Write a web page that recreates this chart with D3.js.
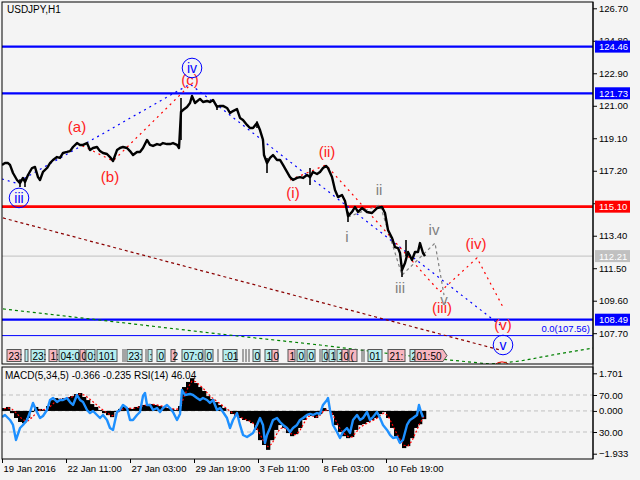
<!DOCTYPE html>
<html>
<head>
<meta charset="utf-8">
<script src="https://cdn.jsdelivr.net/npm/d3@7"></script>
<style>
  body { margin: 0; background: #f4f4f4; }
  text { font-family: "Liberation Sans", Arial, sans-serif; }
</style>
</head>
<body>
<div id="chart"></div>
<script>
// ---- data ----
const titleText = "USDJPY,H1";
const subTitleText = "MACD(5,34,5) -0.366 -0.235 RSI(14) 46.04";

const timeTickBars = [0, 64, 128, 192, 256, 320, 384];
const timeTickLabels = ["19 Jan 2016", "22 Jan 11:00", "27 Jan 03:00", "29 Jan 19:00", "3 Feb 11:00", "8 Feb 03:00", "10 Feb 19:00"];

const priceTicks = [126.70, 124.80, 122.90, 121.00, 119.10, 117.20, 115.30, 113.40, 111.50, 109.60, 107.70];

const priceBars = [0,3,6,8,11,15,18,21,23,26,30,33,36,38,41,45,48,51,55,58,61,65,68,71,75,78,81,85,88,91,95,98,101,105,108,111,115,118,121,125,128,131,135,138,141,145,148,151,155,158,161,165,168,171,175,177,178,179,181,185,188,190,193,198,201,205,208,211,215,218,221,225,228,231,235,238,241,245,248,251,255,258,261,262,265,268,271,275,278,281,285,288,291,295,298,301,305,308,311,315,318,321,324,326,330,333,336,340,343,346,350,353,356,360,365,370,375,380,383,386,390,393,396,398,400,403,406,410,413,416,418,421,423];
const priceClose = [117.54,117.65,117.65,117.54,117.07,116.66,116.48,116.78,116.54,116.95,117.36,117.42,116.83,116.66,117.13,117.36,117.65,117.83,118.00,117.95,118.24,118.30,118.35,118.59,118.82,118.71,118.71,118.82,118.41,118.53,118.59,118.35,118.24,118.18,118.00,117.77,118.41,118.53,118.59,118.53,118.35,118.12,118.30,118.30,118.53,119.00,118.71,118.65,118.76,118.71,118.82,118.76,118.76,118.82,118.71,118.53,119.58,120.64,120.75,120.93,121.16,121.57,121.16,121.40,121.22,121.28,121.22,121.34,120.93,120.99,120.99,120.87,120.58,120.69,120.81,120.29,120.17,119.88,119.70,119.70,119.99,119.58,119.00,118.12,117.65,117.95,118.12,117.83,117.83,117.54,117.13,116.83,116.66,116.78,116.83,116.78,116.95,116.83,117.13,117.01,117.13,117.36,117.48,117.36,116.83,116.07,115.66,115.78,115.43,114.55,114.79,115.08,114.79,115.02,114.79,114.73,115.02,115.08,114.73,113.74,113.27,112.74,112.68,112.39,111.40,111.81,112.45,111.98,112.45,112.45,112.97,112.39,112.21];

const wickBars = [18, 23, 179, 215, 255, 265, 308, 346, 400, 404];
const wickHigh = [116.70, 116.70, 121.45, 121.00, 120.10, 117.95, 117.36, 114.80, 111.60, 113.15];
const wickLow  = [116.25, 116.25, 119.00, 120.75, 119.70, 117.07, 116.37, 114.20, 110.99, 112.20];

const blueLevels = [124.46, 121.73, 108.49];
const redLevels = [115.10];
const currentPrice = 112.21;
const fiboLevel = 107.56;
const fiboText = "0.0(107.56)";

// wave paths
const blueWaveBars = [0, 14, 188, 498];
const blueWavePrices = [116.72, 116.48, 122.27, 108.18];
const abcBars = [75, 111, 188];
const abcPrices = [118.82, 117.77, 122.21];
const minorBars = [288, 324, 438, 475, 501];
const minorPrices = [116.66, 117.54, 110.11, 112.10, 109.23];
const subBars = [346, 378, 400, 433, 442];
const subPrices = [114.50, 115.20, 111.10, 112.97, 109.93];
const channelBars = [1, 498];
const channelPrices = [114.44, 106.72];
const greenBars = [1, 71, 218, 318, 398, 448, 488, 518, 551, 591];
const greenPrices = [109.12, 108.65, 107.65, 107.01, 106.43, 106.13, 105.90, 106.07, 106.43, 106.83];

// wave labels
const redLabelText = ["(a)", "(b)", "(c)", "(i)", "(ii)", "(iii)", "(iv)", "(v)"];
const redLabelBars = [75, 108, 188, 291, 325, 440, 474, 501];
const redLabelPrices = [119.76, 116.89, 122.51, 115.90, 118.30, 109.23, 112.97, 108.18];
const grayLabelText = ["i", "ii", "iii", "iv", "v"];
const grayLabelBars = [345, 377, 398, 432, 442];
const grayLabelPrices = [113.33, 116.13, 110.40, 113.79, 109.70];
const blueCircleText = ["iii", "iv", "v"];
const blueCircleBars = [17, 190, 501];
const blueCirclePrices = [115.61, 123.21, 107.01];
const redCircleText = ["C"];
const redCircleBars = [500];
const redCirclePrices = [105.45];

// session markers along the bottom of the price panel
const sessionStart = [5,23,29,47,57,78,84,95,125,146,155,169,180,203,221,251,263,270,286,295,305,320,327,335,340,347,366,386,408,413];
const sessionEnd   = [19,26,43,55,77,83,93,115,140,150,163,173,201,211,235,258,270,276,293,303,313,325,333,340,346,355,380,403,413,441];
const sessionText  = ["23:","","23:","1:","04:0","0","0:","101","23:",":","0","2","07:0","0",":01","0","1","0","1","0","0","0","1","1","0","(","01","21:","2","01:50"];
const sessionKind  = ["p","c","c","p","c","p","c","c","c","c","c","p","c","c","c","c","c","p","p","c","c","c","c","c","p","p","c","p","c","p"];
const sessionTicks = [121, 123, 144, 216, 241, 244, 247, 318, 360, 362];

// MACD / RSI sub-window
const macdStep = 4;
const macdValues = [0.13,0.18,-0.10,-0.32,-0.50,-0.55,-0.32,-0.05,0.18,0.09,0.04,0.22,0.49,0.58,0.54,0.58,0.63,0.67,0.76,0.81,0.63,0.49,0.31,0.18,0.04,-0.10,-0.19,-0.28,-0.05,0.09,0.18,0.13,0.09,0.18,0.22,0.27,0.31,0.31,0.27,0.22,0.18,0.13,0.09,0.04,0.22,1.08,1.31,1.48,1.26,1.08,0.90,0.67,0.54,0.40,0.27,0.13,0.00,-0.14,-0.23,-0.32,-0.41,-0.46,-0.55,-0.86,-1.32,-1.54,-1.76,-1.32,-0.86,-0.64,-0.77,-1.00,-1.14,-1.05,-0.77,-0.41,-0.14,-0.23,-0.32,-0.14,0.13,0.04,-0.19,-0.64,-0.95,-1.14,-1.23,-1.18,-0.86,-0.64,-0.59,-0.50,-0.41,-0.32,-0.14,-0.05,-0.32,-0.77,-1.14,-1.41,-1.68,-1.59,-1.23,-0.77,-0.60,-0.37];
const signalValues = [0.10,0.14,0.08,-0.08,-0.28,-0.42,-0.45,-0.30,-0.10,0.05,0.06,0.10,0.28,0.45,0.53,0.55,0.59,0.63,0.70,0.76,0.72,0.60,0.45,0.30,0.15,0.00,-0.12,-0.22,-0.14,0.00,0.12,0.14,0.11,0.14,0.19,0.24,0.28,0.30,0.28,0.24,0.20,0.15,0.11,0.07,0.12,0.65,1.05,1.35,1.32,1.15,0.98,0.78,0.60,0.46,0.33,0.20,0.06,-0.08,-0.18,-0.27,-0.36,-0.43,-0.50,-0.70,-1.05,-1.40,-1.62,-1.48,-1.10,-0.80,-0.75,-0.90,-1.06,-1.07,-0.88,-0.55,-0.25,-0.22,-0.28,-0.20,0.02,0.06,-0.10,-0.45,-0.80,-1.02,-1.16,-1.18,-0.98,-0.74,-0.63,-0.54,-0.45,-0.36,-0.20,-0.09,-0.22,-0.58,-0.95,-1.28,-1.55,-1.58,-1.35,-0.95,-0.55,-0.24];
const rsiBars = [0,3,8,11,14,18,21,25,28,31,34,38,41,45,48,51,55,58,61,65,68,71,75,78,81,85,88,91,95,98,101,105,108,111,115,118,121,125,128,131,135,138,141,143,145,148,151,155,158,161,165,168,171,175,178,180,183,188,191,195,198,201,205,208,211,215,218,221,225,228,231,235,238,241,245,248,251,255,258,261,263,265,268,271,275,278,281,285,288,291,295,298,301,305,308,311,315,318,321,325,326,328,331,335,338,341,345,348,351,355,358,361,365,368,371,375,378,381,385,388,391,395,398,401,405,408,411,415,417,419,421];
const rsiValues = [46.2,48.4,43.0,37.6,21.4,34.3,37.6,43.0,51.6,61.4,53.8,45.1,47.3,53.8,64.6,66.8,62.4,64.6,64.6,66.8,62.4,59.2,70.0,64.6,62.4,53.8,50.5,52.7,48.4,45.1,48.4,43.0,34.3,32.2,51.6,53.8,59.2,55.9,43.0,43.0,48.4,51.6,68.9,72.2,59.2,59.2,53.8,55.9,51.6,55.9,59.2,55.9,51.6,43.0,49.5,75.4,70.0,71.1,70.0,66.8,64.6,66.8,64.6,61.4,64.6,53.8,55.9,51.6,45.1,34.3,43.0,50.5,37.6,26.8,24.6,26.8,29.0,37.6,45.1,37.6,18.1,26.8,34.3,43.0,45.1,40.8,37.6,34.3,30.0,34.3,37.6,43.0,45.1,48.4,49.5,48.4,50.5,49.5,59.2,64.6,66.8,53.8,37.6,30.0,23.5,30.0,34.3,29.0,43.0,48.4,43.0,45.1,51.6,43.0,46.2,51.6,45.1,37.6,32.2,26.8,23.5,24.6,18.1,21.4,37.6,43.0,45.1,48.4,59.2,51.6,46.0];
const rsiLevels = [70, 30];
const macdTicks = [1.701, 0, -1.933];

// ---- layout ----
const width = 640, height = 480;
const plotL = 2, plotR = 593;
const mainTop = 2, mainBottom = 364;
const subTop = 367, subBottom = 459;
const axisFont = "9.5px";

const svg = d3.select("#chart").append("svg")
  .attr("width", width)
  .attr("height", height)
  .style("background", "#f4f4f4");

const x = d3.scaleLinear().domain([0, 591]).range([plotL, plotR]);
const y = d3.scaleLinear().domain([107.70, 126.70]).range([333.2, 8.3]);
const yMacd = d3.scaleLinear().domain([-1.933, 1.701]).range([453.7, 373.3]);
const yRsi = d3.scaleLinear().domain([0, 100]).range([459.75, 367.25]);

svg.append("clipPath").attr("id", "mainClip")
  .append("rect").attr("x", plotL).attr("y", mainTop)
  .attr("width", plotR - plotL).attr("height", mainBottom - mainTop);
svg.append("clipPath").attr("id", "subClip")
  .append("rect").attr("x", plotL).attr("y", subTop)
  .attr("width", plotR - plotL).attr("height", subBottom - subTop);

const main = svg.append("g").attr("clip-path", "url(#mainClip)");

// horizontal levels
main.selectAll(".blue-level").data(blueLevels).enter().append("line")
  .attr("x1", plotL).attr("x2", plotR)
  .attr("y1", d => y(d)).attr("y2", d => y(d))
  .attr("stroke", "#0000ff").attr("stroke-width", 2.2);
main.selectAll(".red-level").data(redLevels).enter().append("line")
  .attr("x1", plotL).attr("x2", plotR)
  .attr("y1", d => y(d)).attr("y2", d => y(d))
  .attr("stroke", "#ff0000").attr("stroke-width", 2.6);
main.append("line")
  .attr("x1", plotL).attr("x2", plotR)
  .attr("y1", y(currentPrice)).attr("y2", y(currentPrice))
  .attr("stroke", "#c0c0c0").attr("stroke-width", 1);
main.append("line")
  .attr("x1", plotL).attr("x2", plotR)
  .attr("y1", y(fiboLevel)).attr("y2", y(fiboLevel))
  .attr("stroke", "#0000ff").attr("stroke-width", 1);
main.append("text")
  .attr("x", plotR - 3).attr("y", y(fiboLevel) - 4)
  .attr("text-anchor", "end")
  .attr("font-size", axisFont)
  .attr("fill", "#0000ff")
  .text(fiboText);

function wavePath(bars, prices) {
  return d3.line().x((d, i) => x(bars[i])).y((d, i) => y(prices[i]))(bars);
}

const dotted = [
  { bars: greenBars, prices: greenPrices, color: "#008000", dash: "3,3", w: 1.2 },
  { bars: channelBars, prices: channelPrices, color: "#8b0000", dash: "3,3", w: 1.2 },
  { bars: blueWaveBars, prices: blueWavePrices, color: "#0000ff", dash: "2,4", w: 1.2 },
  { bars: abcBars, prices: abcPrices, color: "#ff0000", dash: "2,4", w: 1.2 },
  { bars: minorBars, prices: minorPrices, color: "#ff0000", dash: "2,4", w: 1.2 },
  { bars: subBars, prices: subPrices, color: "#808080", dash: "3,3", w: 1.2 }
];
dotted.forEach(s => {
  main.append("path")
    .attr("d", wavePath(s.bars, s.prices))
    .attr("fill", "none")
    .attr("stroke", s.color)
    .attr("stroke-width", s.w)
    .attr("stroke-dasharray", s.dash);
});

// session marker boxes
const sessions = main.append("g");
sessionStart.forEach((s, i) => {
  const x0 = x(s), x1 = x(sessionEnd[i]);
  const fill = sessionKind[i] === "p" ? "#f7b6bf" : "#b4eef0";
  if (i === sessionStart.length - 1) {
    sessions.append("path")
      .attr("d", `M${x0},349.5H${x1}L${x1 + 4},355.5L${x1},361.5H${x0}Z`)
      .attr("fill", fill).attr("stroke", "#555").attr("stroke-width", 1);
  } else {
    sessions.append("rect")
      .attr("x", x0).attr("y", 349.5).attr("width", x1 - x0).attr("height", 12)
      .attr("fill", fill).attr("stroke", "#555").attr("stroke-width", 1);
  }
  sessions.append("text")
    .attr("x", x0 + 1.5).attr("y", 359.5)
    .attr("font-size", "10px").attr("fill", "#000")
    .text(sessionText[i]);
});
sessions.selectAll(".tick").data(sessionTicks).enter().append("line")
  .attr("x1", d => x(d)).attr("x2", d => x(d))
  .attr("y1", 349).attr("y2", 362)
  .attr("stroke", "#555").attr("stroke-width", 1);

// price line + wicks
main.selectAll(".wick").data(wickBars).enter().append("line")
  .attr("x1", d => x(d)).attr("x2", d => x(d))
  .attr("y1", (d, i) => y(wickHigh[i])).attr("y2", (d, i) => y(wickLow[i]))
  .attr("stroke", "#000").attr("stroke-width", 1.6);
main.append("path")
  .attr("d", wavePath(priceBars, priceClose))
  .attr("fill", "none")
  .attr("stroke", "#000")
  .attr("stroke-width", 2.4)
  .attr("stroke-linejoin", "round");

// wave labels
main.selectAll(".red-label").data(redLabelText).enter().append("text")
  .attr("x", (d, i) => x(redLabelBars[i]))
  .attr("y", (d, i) => y(redLabelPrices[i]))
  .attr("text-anchor", "middle").attr("dominant-baseline", "central")
  .attr("font-size", "15px").attr("fill", "#ff2020")
  .text(d => d);
main.selectAll(".gray-label").data(grayLabelText).enter().append("text")
  .attr("x", (d, i) => x(grayLabelBars[i]))
  .attr("y", (d, i) => y(grayLabelPrices[i]))
  .attr("text-anchor", "middle").attr("dominant-baseline", "central")
  .attr("font-size", "15px").attr("fill", "#808080")
  .text(d => d);

function circleLabels(texts, bars, prices, color) {
  const g = main.selectAll(null).data(texts).enter().append("g")
    .attr("transform", (d, i) => `translate(${x(bars[i])},${y(prices[i])})`);
  g.append("circle").attr("r", 9.8)
    .attr("fill", "none").attr("stroke", color).attr("stroke-width", 1);
  g.append("text")
    .attr("text-anchor", "middle").attr("dominant-baseline", "central")
    .attr("font-size", "14px").attr("fill", color)
    .text(d => d);
}
circleLabels(blueCircleText, blueCircleBars, blueCirclePrices, "#0000ff");
circleLabels(redCircleText, redCircleBars, redCirclePrices, "#ff0000");

// title
svg.append("text")
  .attr("x", 7).attr("y", 13)
  .attr("font-size", "10px").attr("fill", "#000")
  .text(titleText);

// ---- sub window: MACD + RSI ----
const sub = svg.append("g").attr("clip-path", "url(#subClip)");
sub.selectAll(".rsi-level").data(rsiLevels).enter().append("line")
  .attr("x1", plotL).attr("x2", plotR)
  .attr("y1", d => yRsi(d)).attr("y2", d => yRsi(d))
  .attr("stroke", "#c0c0c0").attr("stroke-dasharray", "4,3");
sub.append("line")
  .attr("x1", plotL).attr("x2", plotR)
  .attr("y1", yMacd(0)).attr("y2", yMacd(0))
  .attr("stroke", "#c0c0c0").attr("stroke-dasharray", "4,3");

sub.selectAll(".hist").data(macdValues).enter().append("rect")
  .attr("x", (d, i) => x(i * macdStep))
  .attr("width", x(macdStep) - x(0) + 0.3)
  .attr("y", d => Math.min(yMacd(d), yMacd(0)))
  .attr("height", d => Math.abs(yMacd(d) - yMacd(0)))
  .attr("fill", "#000");

sub.append("path")
  .attr("d", d3.line().x((d, i) => x(i * macdStep + 2)).y(d => yMacd(d))(signalValues))
  .attr("fill", "none").attr("stroke", "#ff0000")
  .attr("stroke-width", 1.2).attr("stroke-dasharray", "2,2");

sub.append("path")
  .attr("d", d3.line().x((d, i) => x(rsiBars[i])).y(d => yRsi(d))(rsiValues))
  .attr("fill", "none").attr("stroke", "#1e90ff")
  .attr("stroke-width", 2.4).attr("stroke-linejoin", "round");

svg.append("text")
  .attr("x", 5).attr("y", 379)
  .attr("font-size", "10px").attr("fill", "#000")
  .text(subTitleText);

// ---- frames ----
svg.append("rect")
  .attr("x", plotL).attr("y", mainTop)
  .attr("width", plotR - plotL).attr("height", mainBottom - mainTop)
  .attr("fill", "none").attr("stroke", "#000");
svg.append("rect")
  .attr("x", plotL).attr("y", subTop)
  .attr("width", plotR - plotL).attr("height", subBottom - subTop)
  .attr("fill", "none").attr("stroke", "#000");

// ---- axes ----
function styleAxis(g) {
  g.select(".domain").remove();
  g.selectAll("line").attr("stroke", "#000");
  g.selectAll("text").attr("font-size", axisFont).attr("fill", "#000")
    .attr("font-family", "Liberation Sans, Arial, sans-serif");
}

svg.append("g")
  .attr("transform", `translate(${plotR},0)`)
  .call(d3.axisRight(y).tickValues(priceTicks).tickSize(4).tickPadding(2).tickFormat(d3.format(".2f")))
  .call(styleAxis);

svg.append("g")
  .attr("transform", `translate(${plotR},0)`)
  .call(d3.axisRight(yMacd).tickValues(macdTicks).tickSize(4).tickPadding(2).tickFormat(d3.format(".3f")))
  .call(styleAxis);

svg.append("g")
  .attr("transform", `translate(${plotR},0)`)
  .call(d3.axisRight(yRsi).tickValues(rsiLevels).tickSize(4).tickPadding(2).tickFormat(d3.format(".2f")))
  .call(styleAxis);

svg.append("g")
  .attr("transform", `translate(0,${subBottom})`)
  .call(d3.axisBottom(x).tickValues(timeTickBars).tickSize(4).tickPadding(2)
    .tickFormat((d, i) => timeTickLabels[i]))
  .call(styleAxis)
  .selectAll("text").attr("text-anchor", "start").attr("dx", "1px");

// price boxes on the right scale
function priceBox(price, fill) {
  const g = svg.append("g").attr("transform", `translate(595,${y(price)})`);
  g.append("rect").attr("x", 0).attr("y", -6).attr("width", 35).attr("height", 12).attr("fill", fill);
  g.append("text").attr("x", 4).attr("y", 0).attr("dominant-baseline", "central")
    .attr("font-size", axisFont).attr("fill", "#fff")
    .text(d3.format(".2f")(price));
}
blueLevels.forEach(p => priceBox(p, "#0000ff"));
redLevels.forEach(p => priceBox(p, "#ff0000"));
priceBox(currentPrice, "#c0c0c0");

// right axis line spans both windows
svg.append("line")
  .attr("x1", plotR).attr("x2", plotR).attr("y1", mainTop).attr("y2", subBottom)
  .attr("stroke", "#000");
</script>
</body>
</html>
